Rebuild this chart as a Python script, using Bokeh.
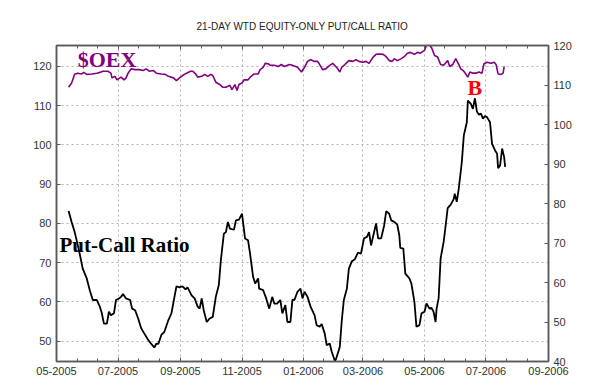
import pandas as pd
from bokeh.plotting import figure
from bokeh.models import (Range1d, LinearAxis, DatetimeAxis, FixedTicker, DatetimeTickFormatter,
                          Label, Title, CustomJSTickFormatter)
from bokeh.embed import file_html
from bokeh.resources import INLINE

# ---------------- data ----------------
pc_dates = ["2005-05-13","2005-05-16","2005-05-19","2005-05-21","2005-05-24","2005-05-27","2005-05-31",
"2005-06-03","2005-06-06","2005-06-10","2005-06-13","2005-06-15","2005-06-17","2005-06-20","2005-06-22",
"2005-06-24","2005-06-27","2005-06-29","2005-07-02","2005-07-04","2005-07-06","2005-07-09","2005-07-13",
"2005-07-15","2005-07-18","2005-07-21","2005-07-24","2005-07-27","2005-07-31","2005-08-03","2005-08-06",
"2005-08-08","2005-08-10","2005-08-13","2005-08-16","2005-08-20","2005-08-23","2005-08-26","2005-08-28",
"2005-08-31","2005-09-03","2005-09-06","2005-09-08","2005-09-12","2005-09-15","2005-09-18","2005-09-20",
"2005-09-22","2005-09-24","2005-09-27","2005-09-30","2005-10-03","2005-10-06","2005-10-09","2005-10-11",
"2005-10-14","2005-10-16","2005-10-18","2005-10-20","2005-10-24","2005-10-26","2005-10-29","2005-11-01",
"2005-11-02","2005-11-04","2005-11-07","2005-11-09","2005-11-12","2005-11-14","2005-11-17","2005-11-18",
"2005-11-22","2005-11-25","2005-11-28","2005-12-01","2005-12-03","2005-12-06","2005-12-09","2005-12-11",
"2005-12-14","2005-12-16","2005-12-19","2005-12-21","2005-12-23","2005-12-26","2005-12-29","2005-12-31",
"2006-01-02","2006-01-05","2006-01-08","2006-01-12","2006-01-14","2006-01-17","2006-01-19","2006-01-22",
"2006-01-24","2006-01-27","2006-01-29","2006-02-01","2006-02-02","2006-02-05","2006-02-06","2006-02-08",
"2006-02-10","2006-02-13","2006-02-15","2006-02-18","2006-02-21","2006-02-24","2006-02-27","2006-03-02",
"2006-03-05","2006-03-07","2006-03-09","2006-03-12","2006-03-14","2006-03-16","2006-03-19","2006-03-22",
"2006-03-24","2006-03-27","2006-03-29","2006-04-01","2006-04-04","2006-04-06","2006-04-07","2006-04-10",
"2006-04-12","2006-04-16","2006-04-18","2006-04-21","2006-04-23","2006-04-26","2006-04-28","2006-05-01",
"2006-05-03","2006-05-06","2006-05-08","2006-05-10","2006-05-12","2006-05-13","2006-05-15","2006-05-17",
"2006-05-20","2006-05-22","2006-05-24","2006-05-27","2006-05-30","2006-05-31","2006-06-02","2006-06-04",
"2006-06-07","2006-06-09","2006-06-12","2006-06-13","2006-06-16","2006-06-18","2006-06-20","2006-06-22",
"2006-06-24","2006-06-26","2006-06-28","2006-06-30","2006-07-02","2006-07-05","2006-07-07","2006-07-10",
"2006-07-12","2006-07-13","2006-07-15","2006-07-17","2006-07-19","2006-07-20"]
pc_values = [83.2,80.4,77.8,75.7,72.3,68.5,66.0,
63.0,60.5,60.5,58.8,57.1,54.5,54.5,57.5,
56.6,57.1,60.5,60.9,61.3,62.0,60.9,60.5,
58.3,57.9,55.8,53.3,52.0,50.3,49.3,48.4,
49.4,49.3,51.6,52.4,55.4,57.1,61.3,64.0,
63.7,64.0,63.2,63.7,61.7,60.9,58.8,58.3,
60.9,57.9,54.9,55.8,56.2,61.3,64.3,70.6,
77.4,77.8,80.4,78.7,78.4,80.8,81.0,82.5,
80.4,76.2,75.7,72.3,66.4,64.7,66.0,63.4,
63.0,60.9,58.3,61.3,59.6,59.6,60.5,57.1,
59.2,54.9,54.9,60.6,60.5,62.6,63.4,60.9,
62.6,61.3,58.8,56.6,54.1,53.7,54.4,52.0,
49.0,49.4,47.3,45.1,45.3,47.7,48.6,55.4,
60.5,63.4,68.5,70.4,70.9,72.6,72.3,76.2,
76.6,77.8,74.4,77.8,80.0,76.2,76.2,79.5,
83.1,82.5,80.8,80.4,79.7,77.0,73.8,73.6,
67.2,66.0,64.7,60.0,53.7,54.1,57.1,57.5,
59.6,58.3,58.5,57.5,54.9,58.3,60.9,71.1,
75.3,79.5,83.9,84.8,86.2,87.6,85.5,88.9,
95.6,102.4,105.8,111.3,110.5,109.2,111.9,108.5,
107.7,108.0,106.7,107.4,107.1,105.8,100.3,98.6,
97.8,94.1,94.8,99.1,96.9,94.4]

oex_dates = ["2005-05-13","2005-05-16","2005-05-19","2005-05-22","2005-05-26","2005-05-28","2005-05-31",
"2005-06-05","2005-06-10","2005-06-13","2005-06-16","2005-06-21","2005-06-24","2005-06-25","2005-06-28",
"2005-06-30","2005-07-04","2005-07-07","2005-07-09","2005-07-11","2005-07-14","2005-07-18","2005-07-22",
"2005-07-26","2005-07-29","2005-08-01","2005-08-05","2005-08-08","2005-08-13","2005-08-17","2005-08-20",
"2005-08-25","2005-08-28","2005-08-31","2005-09-03","2005-09-07","2005-09-11","2005-09-13","2005-09-16",
"2005-09-18","2005-09-22","2005-09-25","2005-09-28","2005-10-01","2005-10-03","2005-10-06","2005-10-10",
"2005-10-13","2005-10-16","2005-10-20","2005-10-22","2005-10-25","2005-10-27","2005-10-29","2005-11-01",
"2005-11-03","2005-11-07","2005-11-10","2005-11-13","2005-11-17","2005-11-19","2005-11-22","2005-11-24",
"2005-11-27","2005-11-29","2005-12-03","2005-12-07","2005-12-10","2005-12-13","2005-12-16","2005-12-18",
"2005-12-21","2005-12-26","2005-12-30","2006-01-02","2006-01-05","2006-01-08","2006-01-12","2006-01-15",
"2006-01-17","2006-01-20","2006-01-23","2006-01-27","2006-01-30","2006-02-02","2006-02-04","2006-02-06",
"2006-02-08","2006-02-11","2006-02-15","2006-02-19","2006-02-22","2006-02-25","2006-03-01","2006-03-04",
"2006-03-07","2006-03-11","2006-03-14","2006-03-17","2006-03-21","2006-03-24","2006-03-27","2006-03-30",
"2006-04-01","2006-04-04","2006-04-08","2006-04-11","2006-04-14","2006-04-17","2006-04-21","2006-04-24",
"2006-04-27","2006-05-01","2006-05-03","2006-05-06","2006-05-08","2006-05-11","2006-05-14","2006-05-17",
"2006-05-20","2006-05-24","2006-05-26","2006-05-29","2006-06-01","2006-06-04","2006-06-06","2006-06-09",
"2006-06-13","2006-06-15","2006-06-18","2006-06-21","2006-06-24","2006-06-27","2006-06-29","2006-07-02",
"2006-07-06","2006-07-09","2006-07-11","2006-07-13","2006-07-16","2006-07-18","2006-07-19"]
oex_values = [114.7,115.8,118.0,118.3,118.1,118.5,118.0,
118.1,118.3,118.5,118.8,118.8,118.3,117.1,117.5,
116.6,117.3,116.6,117.1,118.3,119.4,119.2,119.2,
119.0,119.4,118.8,119.0,118.3,118.1,118.0,117.5,
117.1,116.4,117.1,117.7,118.3,118.8,118.8,118.1,
117.3,117.5,118.0,117.5,118.0,117.7,116.0,115.4,
114.7,114.7,115.2,114.1,115.4,113.9,115.4,115.8,
116.6,116.6,117.5,118.1,118.1,119.2,119.8,120.8,
120.7,120.3,120.3,120.0,120.5,120.0,120.3,120.5,
120.3,119.8,118.6,119.8,121.3,121.7,121.3,121.3,
120.5,119.2,119.4,120.3,120.8,120.0,119.4,118.6,
119.8,120.5,121.5,121.3,121.7,121.3,121.1,121.3,
120.8,122.4,123.1,123.2,123.1,122.5,121.5,121.3,
122.0,121.5,122.0,122.5,123.4,123.6,123.1,123.6,
123.4,124.1,125.5,125.5,124.8,122.8,122.4,120.5,
120.3,121.5,120.0,120.5,122.0,120.5,119.4,118.8,
117.3,118.6,118.3,118.3,118.6,118.3,120.7,121.1,
120.8,121.1,120.5,118.1,118.0,118.3,120.0]

x_tick_dates = ["2005-05-01","2005-07-01","2005-09-01","2005-11-01","2006-01-01",
                "2006-03-01","2006-05-01","2006-07-01","2006-09-01"]
left_ticks = [50, 60, 70, 80, 90, 100, 110, 120]
right_ticks = [40, 50, 60, 70, 80, 90, 100, 110, 120]

title_text = "21-DAY WTD EQUITY-ONLY PUT/CALL RATIO"

# ---------------- figure ----------------
pc_x = pd.to_datetime(pc_dates)
oex_x = pd.to_datetime(oex_dates)
xt = pd.to_datetime(x_tick_dates)
xt_ms = [t.timestamp() * 1000 for t in xt]
minor_ms = []
for a, b in zip(xt_ms[:-1], xt_ms[1:]):
    minor_ms += [a + (b - a) / 3, a + 2 * (b - a) / 3]

FONT = "Liberation Sans"
AXC = "#5a5a5a"
GRID = "#b4b4b4"

p = figure(width=590, height=383, x_axis_type="datetime", output_backend="svg",
           toolbar_location=None,
           x_range=Range1d(xt[0], xt[-1]), y_range=Range1d(44.83, 125.35),
           min_border_left=56, min_border_right=42, min_border_top=45, min_border_bottom=22)
p.extra_y_ranges = {"right": Range1d(40, 120)}

p.title = Title(text=title_text, align="center", text_font=FONT, text_font_size="10px",
                text_font_style="normal", text_color="#222222", standoff=27)

p.background_fill_color = "white"
p.border_fill_color = "white"
p.outline_line_color = AXC
p.outline_line_width = 1.5

xticker = FixedTicker(ticks=xt_ms, minor_ticks=minor_ms)
fmt = DatetimeTickFormatter(days="%m-%Y", months="%m-%Y", years="%m-%Y")

xa = p.xaxis[0]
xa.ticker = xticker
xa.formatter = fmt
ya = p.yaxis[0]
ya.ticker = FixedTicker(ticks=left_ticks)

top = DatetimeAxis(ticker=xticker, formatter=CustomJSTickFormatter(code="return ''"),
                   major_label_standoff=0)
p.add_layout(top, "above")
right = LinearAxis(y_range_name="right", ticker=FixedTicker(ticks=right_ticks))
p.add_layout(right, "right")

for ax in [xa, ya, top, right]:
    ax.axis_line_color = AXC
    ax.axis_line_width = 1.5
    ax.major_tick_line_color = AXC
    ax.minor_tick_line_color = AXC
    ax.major_tick_in = 4
    ax.major_tick_out = 0
    ax.minor_tick_in = 3
    ax.minor_tick_out = 0
    ax.major_label_text_font = FONT
    ax.major_label_text_color = "#333333"
    ax.major_label_text_font_size = "11px"
for ax in [xa, ya, right]:
    ax.major_label_standoff = 5
for ax in [ya, right]:
    ax.minor_tick_line_color = None

p.xgrid.ticker = xticker
p.xgrid.grid_line_color = GRID
p.xgrid.grid_line_dash = "2 3"
p.ygrid.grid_line_color = GRID
p.ygrid.grid_line_dash = "2 3"

p.line(oex_x, oex_values, line_color="#800080", line_width=1.6)
p.line(pc_x, pc_values, line_color="black", line_width=1.8)

SERIF = "Liberation Serif"
p.add_layout(Label(x=pd.Timestamp("2005-05-22"), y=121.8, text="$OEX", text_font=SERIF,
                   text_font_size="22px", text_font_style="bold", text_color="#800080",
                   text_baseline="alphabetic"))
p.add_layout(Label(x=pd.Timestamp("2005-05-04"), y=74.4, text="Put-Call Ratio", text_font=SERIF,
                   text_font_size="21px", text_font_style="bold", text_color="black",
                   text_baseline="alphabetic"))
p.add_layout(Label(x=pd.Timestamp("2006-06-20"), y=114.6, text="B", text_font=SERIF,
                   text_font_size="22px", text_font_style="bold", text_color="#ff0000",
                   text_align="center", text_baseline="alphabetic"))

open("out.html", "w").write(file_html(p, INLINE))
